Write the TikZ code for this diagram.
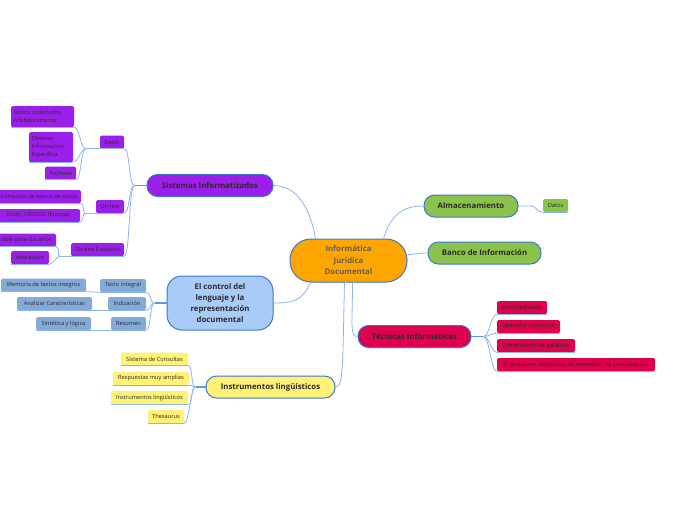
\documentclass[tikz,border=0pt]{standalone}
\usepackage{fontspec}
\setmainfont{Open Sans}
\usetikzlibrary{calc}
\definecolor{purp}{HTML}{9B1EE9}
\definecolor{orng}{HTML}{FFA500}
\definecolor{lblue}{HTML}{A9CBF7}
\definecolor{steel}{HTML}{84AAD8}
\definecolor{yell}{HTML}{FFF176}
\definecolor{grn}{HTML}{8BC34A}
\definecolor{crim}{HTML}{E0004D}
\definecolor{bord}{HTML}{3A78D6}
\definecolor{connc}{HTML}{8BB5F0}
\definecolor{junc}{HTML}{5B95E8}
\definecolor{dtext}{HTML}{2B2B2B}
\definecolor{ctext}{HTML}{606060}
\tikzset{
  mainbox/.style={draw=bord, line width=1pt, rounded corners=10.5pt, minimum height=22pt,
    font=\fontsize{7.8}{9}\selectfont\bfseries, text=dtext, inner sep=1pt},
  leaf/.style={rounded corners=1.5pt, minimum height=13pt, inner sep=1pt,
    font=\fontsize{5.7}{8}\selectfont, text=dtext},
  conn/.style={draw=connc, line width=0.8pt},
  jline/.style={draw=junc, line width=1.6pt},
}
\begin{document}
\begin{tikzpicture}[x=1pt,y=-1pt]
\useasboundingbox (0,0) rectangle (696,520);

% central
\node[draw=bord, line width=1pt, fill=orng, rounded corners=21pt, minimum width=117pt, minimum height=43pt,
  font=\fontsize{7.8}{11.5}\selectfont\bfseries, text=ctext, align=center, inner sep=1pt]
  (cen) at (348.5,260.5) {Informática\\Jurídica\\Documental};

% main topics
\node[mainbox, fill=purp, minimum width=126pt] (sis) at (210,185.5) {Sistemas Informatizados};
\node[mainbox, fill=grn, minimum width=94pt] (alm) at (471,206) {Almacenamiento};
\node[mainbox, fill=grn, minimum width=113pt] (ban) at (484.5,253) {Banco de Información};
\node[mainbox, fill=crim, minimum width=113pt] (tec) at (414.5,336.5) {Técnicas Informáticas};
\node[mainbox, fill=yell, minimum width=129pt] (ins) at (270.5,387) {Instrumentos lingüísticos};
\node[mainbox, fill=lblue, minimum width=106pt, minimum height=54pt, rounded corners=15pt,
  align=center, font=\fontsize{7.8}{11}\selectfont\bfseries] (ctl) at (220,303)
  {El control del\\lenguaje y la\\representación\\documental};

% leaves: Sistemas
\node[leaf, fill=purp, minimum width=24pt] (batch) at (112,142) {Batch};
\node[leaf, fill=purp, minimum width=63pt, minimum height=21pt, text width=58pt, align=left] (textos) at (42.5,116.5) {Textos ordenados\\Alfabéticamente};
\node[leaf, fill=purp, minimum width=44pt, minimum height=30pt, text width=39pt, align=left] (obtener) at (51,147) {Obtener\\Información\\Específica};
\node[leaf, fill=purp, minimum width=31pt] (archivos) at (60.5,173) {Archivos};
\node[leaf, fill=purp, minimum width=28pt] (online) at (110,206.5) {On-line};
\node[leaf, fill=purp, minimum width=84pt] (consultas) at (39,196.5) {Consultas de banco de datos};
\node[leaf, fill=purp, minimum width=83pt] (eua) at (38.5,215.5) {(EUA), CREDOC (Europa)};
\node[leaf, fill=purp, minimum width=53pt] (evol) at (97.5,249.5) {On-line Evolutivo};
\node[leaf, fill=purp, minimum width=59pt] (sible) at (26.5,240) {sible para Usuarios};
\node[leaf, fill=purp, minimum width=38pt] (interact) at (30,257.5) {Interactivo};

% leaves: control
\node[leaf, fill=steel, minimum width=46pt] (textoint) at (123,285.5) {Texto Integral};
\node[leaf, fill=steel, minimum width=85pt] (memoria) at (43.5,285) {Memoria de textos integros};
\node[leaf, fill=steel, minimum width=75pt] (analizar) at (54.5,303.5) {Analizar Características};
\node[leaf, fill=steel, minimum width=38pt] (indiz) at (127,303.5) {Indización};
\node[leaf, fill=steel, minimum width=35pt] (resumen) at (128.5,323.5) {Resumen};
\node[leaf, fill=steel, minimum width=55pt] (sintet) at (63.5,323.5) {Sintética y lógica};

% leaves: instrumentos
\node[leaf, fill=yell, minimum width=67pt] (sistcons) at (154.5,359) {Sistema de Consultas};
\node[leaf, fill=yell, minimum width=76pt] (respuestas) at (151,378.5) {Respuestas muy amplias};
\node[leaf, fill=yell, minimum width=77pt] (instleaf) at (149.5,397.5) {Instrumentos lingüísticos};
\node[leaf, fill=yell, minimum width=36pt] (thes) at (166,416.5) {Thesaurus};

% leaves: right
\node[leaf, fill=grn, minimum width=25pt] (datos) at (555.5,205.5) {Datos};
\node[leaf, fill=crim, minimum width=50pt] (interm) at (522,307.5) {Intermediación};
\node[leaf, fill=crim, minimum width=63pt] (opcon) at (528.5,326.5) {Operador Conectivo};
\node[leaf, fill=crim, minimum width=78pt] (comb) at (536,345.5) {Combinación de palabras};
\node[leaf, fill=crim, minimum width=158pt] (opsint) at (576,364.5) {Operadores sintácticos, de extensión, de comparación};

% underlines
\foreach \n in {batch, textos, obtener, archivos, online, consultas, eua, evol, sible, interact,
  textoint, memoria, indiz, analizar, resumen, sintet, sistcons, respuestas, instleaf, thes,
  datos, interm, opcon, comb, opsint}
  \draw[conn] (\n.south west) -- (\n.south east);

% central connectors
\draw[conn] ($(cen.north west)+(26,0)$) .. controls +(-5,-28) and +(25,0) .. (sis.east);
\draw[conn] ($(cen.north west)+(94,0)$) .. controls +(8,-25) and +(-20,0) .. (alm.west);
\draw[conn] ($(cen.east)+(0,-6)$) .. controls +(8,0) and +(-8,0) .. (ban.west);
\draw[conn] ($(cen.south west)+(63,0)$) .. controls +(0,40) and +(-8,0) .. (tec.west);
\draw[conn] ($(cen.south west)+(55,0)$) .. controls +(-2,85) and +(8,0) .. (ins.east);
\draw[conn] ($(cen.south west)+(21,0)$) .. controls +(-8,18) and +(20,0) .. (ctl.east);

% Sistemas subtree
\coordinate (js) at ($(sis.west)+(-12,0)$);
\draw[jline] (sis.west) -- (js);
\foreach \c in {batch, online, evol}
  \draw[conn] (js) .. controls +(-6,0) and +(6,0) .. (\c.south east);
\coordinate (jb) at ($(batch.south west)+(-14,0)$);
\draw[conn] (batch.south west) -- (jb);
\foreach \c in {textos, obtener, archivos}
  \draw[conn] (jb) .. controls +(-5,0) and +(5,0) .. (\c.south east);
\coordinate (jo) at ($(online.south west)+(-11,0)$);
\draw[conn] (online.south west) -- (jo);
\foreach \c in {consultas, eua}
  \draw[conn] (jo) .. controls +(-2,0) and +(3,0) .. (\c.south east);
\coordinate (je) at ($(evol.south west)+(-11,0)$);
\draw[conn] (evol.south west) -- (je);
\foreach \c in {sible, interact}
  \draw[conn] (je) .. controls +(-3,0) and +(4,0) .. (\c.south east);

% control subtree
\coordinate (jc) at ($(ctl.west)+(-12,0)$);
\draw[jline] (ctl.west) -- (jc);
\foreach \c in {textoint, indiz, resumen}
  \draw[conn] (jc) .. controls +(-5,0) and +(5,0) .. (\c.south east);
\draw[conn] (textoint.south west) .. controls +(-6,0) and +(6,0) .. (memoria.south east);
\draw[conn] (indiz.south west) .. controls +(-8,0) and +(8,0) .. (analizar.south east);
\draw[conn] (resumen.south west) .. controls +(-10,0) and +(10,0) .. (sintet.south east);

% instrumentos subtree
\coordinate (ji) at ($(ins.west)+(-10,0)$);
\draw[jline] (ins.west) -- (ji);
\foreach \c in {sistcons, respuestas, instleaf, thes}
  \draw[conn] (ji) .. controls +(-5,0) and +(5,0) .. (\c.south east);

% right subtrees
\coordinate (ja) at ($(alm.east)+(12,0)$);
\draw[conn] (alm.east) -- (ja) .. controls +(6,0) and +(-6,0) .. (datos.south west);
\coordinate (jt) at ($(tec.east)+(12,0)$);
\draw[jline] (tec.east) -- (jt);
\foreach \c in {interm, opcon, comb, opsint}
  \draw[conn] (jt) .. controls +(6,0) and +(-6,0) .. (\c.south west);
\end{tikzpicture}
\end{document}
